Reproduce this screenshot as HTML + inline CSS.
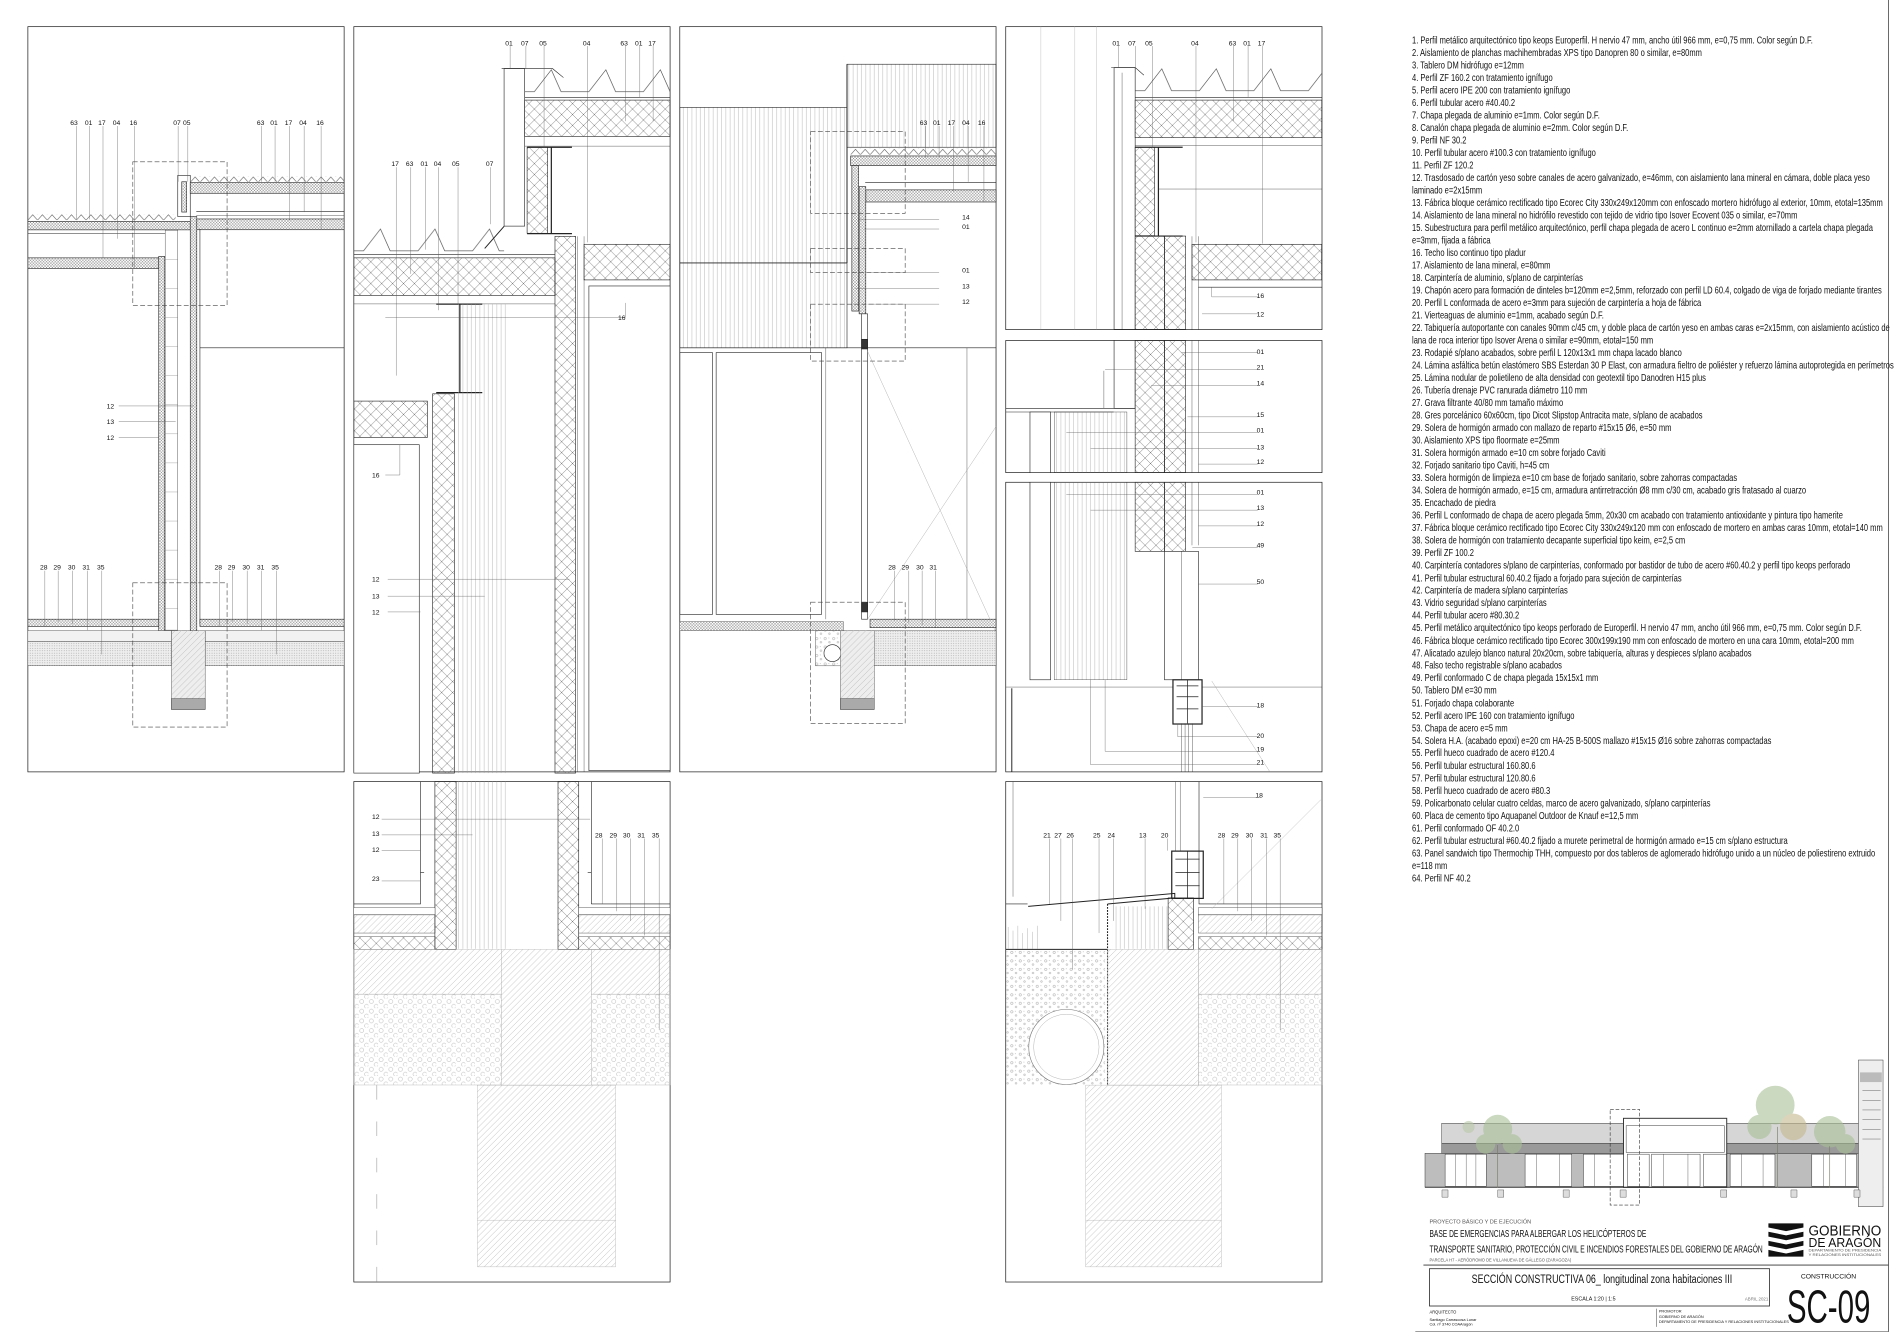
<!DOCTYPE html>
<html><head><meta charset="utf-8"><style>
html,body{margin:0;padding:0;background:#fff;}
svg{display:block;}
text{font-family:"Liberation Sans",sans-serif;fill:#111;stroke:none;}
.lg text{font-size:8.3px;}
.lb{font-size:5.6px;}
</style></head><body>
<svg width="1900" height="1342" viewBox="0 0 1568 1107.5" xmlns="http://www.w3.org/2000/svg">
<defs>
<pattern id="xh" width="9" height="9" patternUnits="userSpaceOnUse"><path d="M0 0L9 9M9 0L0 9" stroke="#555" stroke-width="0.35"/></pattern>
<pattern id="dh" width="2.4" height="2.4" patternUnits="userSpaceOnUse"><rect width="2.4" height="2.4" fill="#fff"/><path d="M0 0L2.4 2.4M2.4 0L0 2.4" stroke="#777" stroke-width="0.35"/></pattern>
<pattern id="dg" width="5" height="5" patternUnits="userSpaceOnUse"><path d="M0 5L5 0M-1 1L1 -1M4 6L6 4" stroke="#aaa" stroke-width="0.35"/></pattern>
<pattern id="dots" width="8" height="8" patternUnits="userSpaceOnUse"><circle cx="2.5" cy="2.5" r="1.7" fill="none" stroke="#999" stroke-width="0.3"/><circle cx="6.5" cy="6.5" r="1.7" fill="none" stroke="#999" stroke-width="0.3"/></pattern>
<pattern id="fd" width="2" height="2" patternUnits="userSpaceOnUse"><rect width="2" height="2" fill="#eee"/><circle cx="1" cy="1" r="0.35" fill="#888"/></pattern>
<pattern id="vl" width="3.5" height="10" patternUnits="userSpaceOnUse"><path d="M0.5 0V10" stroke="#999" stroke-width="0.3"/></pattern>
<pattern id="zz" width="8" height="5" patternUnits="userSpaceOnUse"><path d="M0 5L4 0.5L8 5" fill="none" stroke="#444" stroke-width="0.4"/></pattern>
<pattern id="zb" width="45" height="20" patternUnits="userSpaceOnUse"><path d="M0 19L8 19L22 1L30 19L45 19" fill="none" stroke="#444" stroke-width="0.5"/></pattern>
<pattern id="gv" width="7" height="7" patternUnits="userSpaceOnUse"><circle cx="2" cy="2" r="1" fill="none" stroke="#777" stroke-width="0.3"/><circle cx="5.5" cy="5" r="0.7" fill="none" stroke="#777" stroke-width="0.3"/><circle cx="5" cy="1.5" r="0.3" fill="#777"/></pattern>
</defs>
<g fill="none" stroke="#222" stroke-width="0.6">
<rect x="23" y="22" width="261" height="615"/>
<rect x="292" y="22" width="261" height="615"/>
<rect x="561" y="22" width="261" height="615"/>
<rect x="830" y="22" width="261" height="250"/>
<rect x="830" y="281" width="261" height="109"/>
<rect x="830" y="398" width="261" height="239"/>
<rect x="292" y="645" width="261" height="413"/>
<rect x="830" y="645" width="261" height="413"/>
</g>

<!-- PANEL A -->
<g stroke="#222" stroke-width="0.5" fill="none">
<g transform="translate(23,176.7)"><rect width="122" height="5" fill="url(#zz)" stroke="none"/></g>
<rect x="23" y="182.7" width="134" height="7" fill="url(#dh)"/>
<line x1="23" y1="192.8" x2="146" y2="192.8"/>
<rect x="23" y="212.8" width="108" height="8.8" fill="url(#dh)"/>
<rect x="131" y="211.6" width="5" height="309" fill="url(#dh)"/>
<rect x="136.3" y="190" width="10.4" height="330" fill="#fff" stroke-width="0.3"/>
<path d="M136.3 214h10.4M136.3 238h10.4M136.3 262h10.4M136.3 286h10.4M136.3 310h10.4M136.3 334h10.4M136.3 358h10.4M136.3 382h10.4M136.3 406h10.4M136.3 430h10.4M136.3 454h10.4M136.3 478h10.4M136.3 502h10.4" stroke="#888" stroke-width="0.3"/>
<rect x="157" y="178.7" width="5.4" height="342" fill="url(#dh)"/>
<rect x="146.7" y="144.7" width="10.3" height="34" fill="#fff"/>
<rect x="150" y="150" width="4" height="25" fill="url(#dh)"/>
<g transform="translate(157,145.5)"><rect width="127" height="4.5" fill="url(#zz)" stroke="none"/></g>
<rect x="157" y="150.7" width="127" height="8.8" fill="url(#dh)"/>
<line x1="162" y1="174.7" x2="284" y2="174.7"/><line x1="162" y1="178" x2="284" y2="178" stroke-width="0.3"/>
<rect x="162.4" y="180.7" width="121.6" height="8.9" fill="url(#dh)"/>
<line x1="165" y1="189" x2="165" y2="515"/>
<line x1="165" y1="287" x2="284" y2="287"/>
<rect x="23" y="511" width="108" height="6" fill="url(#dh)"/>
<rect x="165" y="511" width="119" height="6" fill="url(#dh)"/>
<rect x="23" y="520.5" width="118.5" height="8.8" fill="#f2f2f2" stroke-width="0.3"/>
<rect x="169.3" y="520.5" width="114.7" height="8.8" fill="#f2f2f2" stroke-width="0.3"/>
<rect x="23" y="529.3" width="118.5" height="20" fill="url(#fd)" stroke-width="0.3"/>
<rect x="169.3" y="529.3" width="114.7" height="20" fill="url(#fd)" stroke-width="0.3"/>
<rect x="141.5" y="520.5" width="27.8" height="65" fill="#eee" stroke-width="0.3"/>
<rect x="141.5" y="520.5" width="27.8" height="56" fill="url(#dg)" stroke="none"/>
<rect x="141.5" y="576.5" width="27.8" height="9" fill="#aaa" stroke-width="0.3"/>
</g>
<g fill="none" stroke="#444" stroke-width="0.5" stroke-dasharray="4,2">
<rect x="109.6" y="133.5" width="77.8" height="118.5"/>
<rect x="109.6" y="481" width="77.8" height="119"/>
</g>
<g stroke="#555" stroke-width="0.3" fill="none">
<path d="M63 104V181M74 104V181M85 104V213M97 104V197M111 104V221M147 104V150M155 104V150M216 104V150M227 104V150M239 104V182M251 104V175M265 104V189"/>
<path d="M98 335H160M98 348H145M98 361H131"/>
<path d="M37 471V517M48 471V513M60 471V515M72 471V520M84 471V540M181 471V517M192 471V513M204 471V515M216 471V520M228 471V540"/>
</g>
<g class="lb">
<text x="58" y="103">63</text><text x="70" y="103">01</text><text x="81" y="103">17</text><text x="93" y="103">04</text><text x="107" y="103">16</text>
<text x="143" y="103">07</text><text x="151" y="103">05</text>
<text x="212" y="103">63</text><text x="223" y="103">01</text><text x="235" y="103">17</text><text x="247" y="103">04</text><text x="261" y="103">16</text>
<text x="88" y="337">12</text><text x="88" y="350">13</text><text x="88" y="363">12</text>
<text x="33" y="470">28</text><text x="44" y="470">29</text><text x="56" y="470">30</text><text x="68" y="470">31</text><text x="80" y="470">35</text>
<text x="177" y="470">28</text><text x="188" y="470">29</text><text x="200" y="470">30</text><text x="212" y="470">31</text><text x="224" y="470">35</text>
</g>

<!-- PANEL B -->
<g stroke="#222" stroke-width="0.5" fill="none">
<rect x="416" y="56.6" width="17" height="130" fill="#fff"/>
<path d="M414 56.6H456L465 64"/>
<g transform="translate(433,56.6)"><rect width="120" height="20" fill="url(#zb)" stroke="none"/></g>
<line x1="433" y1="80.6" x2="553" y2="80.6"/>
<rect x="433" y="82.6" width="120" height="30" fill="url(#xh)"/>
<line x1="433" y1="120.6" x2="553" y2="120.6" stroke-width="0.3"/>
<rect x="435" y="121.5" width="17" height="71" fill="url(#xh)"/>
<path d="M435 121.5H472M455 121.5V192.8M435 192.8H472" stroke-width="1"/>
<g transform="translate(292,188)"><rect width="124" height="20" fill="url(#zb)" stroke="none"/></g>
<path d="M416 186.8L400 205" stroke-width="0.8"/>
<line x1="292" y1="210" x2="458" y2="210"/>
<rect x="292" y="212.8" width="166" height="31" fill="url(#xh)"/>
<line x1="292" y1="250.8" x2="458" y2="250.8" stroke-width="0.3"/>
<path d="M360 251H398M379.5 251V324M360 324H398" stroke-width="1"/>
<rect x="292" y="331" width="60.7" height="30" fill="url(#xh)"/>
<rect x="292" y="367" width="54" height="271" fill="#fff"/>
<rect x="357" y="325" width="18" height="313" fill="url(#xh)"/>
<rect x="378" y="251" width="41" height="387" fill="url(#vl)" stroke="none"/>
<rect x="458" y="195" width="17" height="443" fill="url(#xh)"/>
<path d="M476.7 195V637M482 195V637" stroke-width="0.3"/>
<rect x="482" y="201.6" width="71" height="29.4" fill="url(#xh)"/>
<rect x="486" y="236" width="67" height="400" fill="#fff"/>
</g>
<g stroke="#555" stroke-width="0.3" fill="none">
<path d="M421 38V57M434 38V57M449 38V122M485 38V200M516 38V100M528 38V80M539 38V100"/>
<path d="M327 138V310M339 138V226M351 138V206M362 138V256M378 138V251M405 138V185"/>
<path d="M318 262H516V250M318 392H330V367M320 478H470M320 492H400M320 505H347"/>
</g>
<g class="lb">
<text x="417" y="37.5">01</text><text x="430" y="37.5">07</text><text x="445" y="37.5">05</text><text x="481" y="37.5">04</text><text x="512" y="37.5">63</text><text x="524" y="37.5">01</text><text x="535" y="37.5">17</text>
<text x="323" y="137">17</text><text x="335" y="137">63</text><text x="347" y="137">01</text><text x="358" y="137">04</text><text x="373" y="137">05</text><text x="401" y="137">07</text>
<text x="510" y="264">16</text><text x="307" y="394">16</text>
<text x="307" y="480">12</text><text x="307" y="494">13</text><text x="307" y="507">12</text>
</g>

<!-- PANEL C -->
<g stroke="#222" stroke-width="0.5" fill="none">
<rect x="561" y="88.6" width="138" height="198.4" fill="url(#vl)"/>
<line x1="561" y1="217" x2="699" y2="217" stroke-width="0.8"/>
<rect x="699" y="53" width="123" height="68.5" fill="url(#vl)"/>
<line x1="699" y1="53" x2="699" y2="217" stroke-width="0.8"/>
<g transform="translate(702,122.7)"><rect width="120" height="5" fill="url(#zz)" stroke="none"/></g>
<rect x="702" y="128.7" width="120" height="8" fill="url(#dh)"/>
<line x1="714" y1="150.7" x2="822" y2="150.7"/>
<rect x="714.5" y="156.7" width="107.5" height="10" fill="url(#dh)"/>
<rect x="703" y="136.7" width="5.6" height="120" fill="url(#dh)"/>
<rect x="709" y="154" width="5.5" height="105" fill="url(#dh)"/>
<rect x="711" y="259" width="5" height="252" fill="#fff"/>
<rect x="711" y="280" width="5" height="8" fill="#333"/>
<rect x="711" y="497" width="5" height="8" fill="#333"/>
<line x1="561" y1="287" x2="822" y2="287"/>
<rect x="561" y="291" width="27" height="216"/>
<rect x="591" y="291" width="87" height="216"/>
<line x1="681.5" y1="287" x2="681.5" y2="511" stroke-width="0.3"/>
<line x1="798" y1="287" x2="798" y2="511" stroke-width="0.3"/>
<path d="M716 290L822 522M716 511L822 352" stroke="#999" stroke-width="0.3"/>
<rect x="561" y="513" width="135" height="7.5" fill="url(#dh)" stroke-width="0.3"/>
<rect x="718" y="511" width="104" height="7" fill="url(#dh)"/>
<rect x="716" y="520.5" width="106" height="28.8" fill="url(#fd)" stroke-width="0.3"/>
<rect x="673" y="520.5" width="24" height="29" fill="url(#gv)" stroke-width="0.3"/>
<circle cx="687" cy="539" r="7" fill="#fff"/>
<rect x="693.6" y="520.5" width="27.9" height="65" fill="#eee" stroke-width="0.3"/>
<rect x="693.6" y="520.5" width="27.9" height="56" fill="url(#dg)" stroke="none"/>
<rect x="693.6" y="576.5" width="27.9" height="9" fill="#aaa" stroke-width="0.3"/>
</g>
<g fill="none" stroke="#444" stroke-width="0.5" stroke-dasharray="4,2">
<rect x="669" y="108.6" width="78" height="67.4"/>
<rect x="669" y="205" width="78" height="20"/>
<rect x="669" y="251" width="78" height="47"/>
<rect x="669" y="497" width="78" height="100"/>
</g>
<g stroke="#555" stroke-width="0.3" fill="none">
<path d="M764 104V130M775 104V130M787 104V158M799 104V150M812 104V167"/>
<path d="M708 181H775M713 189H775M716 225H775M706 238H775M716 251H775"/>
<path d="M738 471V512M750 471V514M761 471V516M772 471V518"/>
</g>
<g class="lb">
<text x="759" y="103">63</text><text x="770" y="103">01</text><text x="782" y="103">17</text><text x="794" y="103">04</text><text x="807" y="103">16</text>
<text x="794" y="181">14</text><text x="794" y="189">01</text><text x="794" y="225">01</text><text x="794" y="238">13</text><text x="794" y="251">12</text>
<text x="733" y="470">28</text><text x="744" y="470">29</text><text x="756" y="470">30</text><text x="767" y="470">31</text>
</g>

<!-- PANEL D -->
<g stroke="#222" stroke-width="0.5" fill="none">
<path d="M859 22V272M887 22V272M905 22V272" stroke="#aaa" stroke-width="0.3"/>
<rect x="919.4" y="55.8" width="17.4" height="216" fill="#fff"/>
<line x1="926" y1="60" x2="926" y2="272" stroke-width="0.3"/>
<path d="M917 55.8H937L944 62" />
<g transform="translate(936.8,55.8)"><rect width="154" height="20" fill="url(#zb)" stroke="none"/></g>
<line x1="936.8" y1="80.6" x2="1091" y2="80.6"/>
<rect x="936.8" y="82.6" width="154" height="31" fill="url(#xh)"/>
<line x1="936.8" y1="120" x2="1091" y2="120" stroke-width="0.3"/>
<rect x="936.8" y="121.5" width="16" height="73" fill="url(#xh)"/>
<path d="M936.8 121.5H976M956 121.5V194.8M936.8 194.8H976" stroke-width="1"/>
<line x1="956" y1="156" x2="1091" y2="156" stroke-width="0.3"/>
<rect x="936.8" y="194.8" width="24.2" height="77" fill="url(#xh)"/>
<rect x="961" y="194.8" width="17.4" height="77" fill="url(#xh)"/>
<path d="M983.7 195V272M989 195V272" stroke-width="0.3"/>
<rect x="983.7" y="201.6" width="107" height="29.4" fill="url(#xh)"/>
<path d="M989 237H1091" />
<rect x="919.4" y="281" width="17.4" height="56" fill="#fff"/>
<rect x="936.8" y="281" width="24.2" height="109" fill="url(#xh)"/>
<rect x="961" y="281" width="17.4" height="109" fill="url(#xh)"/>
<path d="M983.7 281V390M989 281V390" stroke-width="0.3"/>
<path d="M830 337H937M830 340H919" />
<rect x="850" y="340" width="17" height="50" fill="#fff"/>
<rect x="870" y="340" width="60" height="50" fill="url(#vl)" stroke-width="0.3"/>
<line x1="911" y1="306" x2="911" y2="337" stroke-width="0.3"/>
<rect x="936.8" y="398" width="24.2" height="57" fill="url(#xh)"/>
<rect x="961" y="398" width="17.4" height="57" fill="url(#xh)"/>
<path d="M983.7 398V450M989 398V450" stroke-width="0.3"/>
<rect x="850" y="398" width="17" height="163" fill="#fff"/>
<rect x="870" y="398" width="60" height="163" fill="url(#vl)" stroke-width="0.3"/>
<rect x="961" y="455" width="28" height="106" fill="#fff"/>
<line x1="975" y1="455" x2="975" y2="561" stroke-width="0.3"/>
<line x1="830" y1="567" x2="1091" y2="567" stroke-width="0.3"/>
<rect x="968" y="561" width="24" height="36.5" fill="#fff" stroke-width="1"/>
<path d="M971 566H989M971 575H989M971 585H989M980 561V597" stroke-width="0.6"/>
<path d="M975 597V637M978 597V637M981 597V637M984 597V637" stroke-width="0.3"/>
<path d="M1000 562L1048 637" stroke="#999" stroke-width="0.3"/>
<path d="M835 568V637" stroke-width="0.8"/>
</g>
<g stroke="#555" stroke-width="0.3" fill="none">
<path d="M923 38V56M937 38V60M951 38V122M987 38V200M1018 38V100M1030 38V80M1042 38V201"/>
<path d="M1000 237V245H1038M992 259H1038"/>
<path d="M975 291H1038M912 305H1038M950 318H1038M980 344H1038M880 357H1038M900 370H1038M989 383H1038"/>
<path d="M880 408H1038M900 421H1038M989 434H1038M984 452H1038M989 482H1038M992 583H1038M972 597V608H1038M912 561V620H1038M900 561V631H1038"/>
</g>
<g class="lb">
<text x="918" y="37.5">01</text><text x="931" y="37.5">07</text><text x="945" y="37.5">05</text><text x="983" y="37.5">04</text><text x="1014" y="37.5">63</text><text x="1026" y="37.5">01</text><text x="1038" y="37.5">17</text>
<text x="1037" y="246">16</text><text x="1037" y="261">12</text>
<text x="1037" y="292">01</text><text x="1037" y="305">21</text><text x="1037" y="318">14</text><text x="1037" y="344">15</text><text x="1037" y="357">01</text><text x="1037" y="371">13</text><text x="1037" y="383">12</text>
<text x="1037" y="408">01</text><text x="1037" y="421">13</text><text x="1037" y="434">12</text><text x="1037" y="452">49</text><text x="1037" y="482">50</text><text x="1037" y="584">18</text><text x="1037" y="609">20</text><text x="1037" y="620">19</text><text x="1037" y="631">21</text>
</g>

<!-- PANEL B2 -->
<g stroke="#222" stroke-width="0.5" fill="none">
<rect x="358.9" y="645" width="17.5" height="138.5" fill="url(#xh)"/>
<rect x="460.5" y="645" width="17.1" height="138.5" fill="url(#xh)"/>
<rect x="378" y="645" width="41" height="138" fill="url(#vl)" stroke="none"/>
<path d="M292 746H347V645M347 746V720H350M488 746V645M488 720H485M488 746H553" />
<rect x="292" y="749" width="67" height="6" fill="#fff" stroke-width="0.3"/>
<rect x="477.6" y="749" width="75.4" height="6" fill="#fff" stroke-width="0.3"/>
<rect x="292" y="755" width="67" height="15" fill="url(#dg)" stroke-width="0.3"/>
<rect x="477.6" y="755" width="75.4" height="15" fill="url(#dg)" stroke-width="0.3"/>
<rect x="292" y="773" width="67" height="10.5" fill="url(#xh)" stroke-width="0.3"/>
<rect x="477.6" y="773" width="75.4" height="10.5" fill="url(#xh)" stroke-width="0.3"/>
<rect x="292" y="783.5" width="121.7" height="37" fill="url(#dg)" stroke="#aaa" stroke-width="0.3"/>
<rect x="488" y="783.5" width="65" height="37" fill="url(#dg)" stroke="#aaa" stroke-width="0.3"/>
<rect x="413.7" y="783.5" width="74.3" height="112" fill="url(#dg)" stroke="#aaa" stroke-width="0.3"/>
<rect x="292" y="820.4" width="121.7" height="75" fill="url(#dots)" stroke="#aaa" stroke-width="0.3"/>
<rect x="488" y="820.4" width="65" height="75" fill="url(#dots)" stroke="#aaa" stroke-width="0.3"/>
<rect x="394" y="895.5" width="114" height="150" fill="url(#dg)" stroke="#aaa" stroke-width="0.3"/>
<line x1="394" y1="1007" x2="508" y2="1007" stroke="#aaa" stroke-width="0.3"/>
<line x1="311" y1="895.5" x2="311" y2="1058" stroke="#888" stroke-width="0.4" stroke-dasharray="12,18"/>
</g>
<g stroke="#555" stroke-width="0.3" fill="none">
<path d="M315 676H487M315 689H390M315 702H347M315 727H347"/>
<path d="M497 692V746M509 692V752M520.5 692V760M532 692V772M544 692V850"/>
</g>
<g class="lb">
<text x="307" y="676">12</text><text x="307" y="690">13</text><text x="307" y="703">12</text><text x="307" y="727">23</text>
<text x="491" y="691">28</text><text x="503" y="691">29</text><text x="514" y="691">30</text><text x="526" y="691">31</text><text x="538" y="691">35</text>
</g>

<!-- PANEL D4 -->
<g stroke="#222" stroke-width="0.5" fill="none">
<line x1="836" y1="645" x2="836" y2="740" stroke-width="0.3"/>
<path d="M970 645V702M974 645V702" stroke-width="0.3"/>
<rect x="967" y="702.4" width="26" height="39" fill="#fff" stroke-width="1"/>
<path d="M970 709H990M970 720H990M970 731H990M980 702V741" stroke-width="0.6"/>
<path d="M848.5 748L969.5 737.3L969.5 741L914 746" stroke-width="0.8"/>
<path d="M914 746V895" stroke-dasharray="1.5,1" stroke-width="0.9"/>
<path d="M830 746H848" />
<rect x="964" y="741" width="21" height="42.5" fill="url(#xh)"/>
<path d="M989.5 645V746H1091" />
<rect x="918" y="748" width="46" height="35" fill="url(#vl)" stroke="none"/>
<rect x="989" y="749" width="102" height="6" fill="#fff" stroke-width="0.3"/>
<rect x="989" y="755" width="102" height="15" fill="url(#dg)" stroke-width="0.3"/>
<rect x="989" y="773" width="102" height="10.5" fill="url(#xh)" stroke-width="0.3"/>
<path d="M832 783V765M836 783V768M840 783V764M844 783V770M848 783V766M852 783V769M856 783V764" stroke="#999" stroke-width="0.3"/>
<rect x="830" y="783.5" width="82" height="112" fill="url(#gv)" stroke="none"/>
<line x1="830" y1="783.5" x2="914" y2="783.5" stroke-width="0.8"/>
<circle cx="880" cy="864" r="31" fill="#fff" stroke="#777"/>
<circle cx="880" cy="864" r="27" fill="#fff" stroke="#999" stroke-width="0.3"/>
<rect x="914" y="783.5" width="75" height="112" fill="url(#dg)" stroke="#aaa" stroke-width="0.3"/>
<rect x="989" y="783.5" width="102" height="37" fill="url(#dg)" stroke="#aaa" stroke-width="0.3"/>
<rect x="989" y="820.4" width="102" height="75" fill="url(#dots)" stroke="#aaa" stroke-width="0.3"/>
<rect x="896" y="895.5" width="112" height="150" fill="url(#dg)" stroke="#aaa" stroke-width="0.3"/>
<line x1="896" y1="1007" x2="1008" y2="1007" stroke="#aaa" stroke-width="0.3"/>
<path d="M1000 750L1090 660" stroke="#aaa" stroke-width="0.3"/>
</g>
<g stroke="#555" stroke-width="0.3" fill="none">
<path d="M993 658H1040M866 692V746M875.5 692V760M885 692V800M907 692V770M919 692V760M945 692V750M963.5 692V702"/>
<path d="M1010 692V746M1021.5 692V752M1033 692V760M1045 692V772M1056.5 692V850"/>
</g>
<g class="lb">
<text x="1036" y="658">18</text>
<text x="861" y="691">21</text><text x="870" y="691">27</text><text x="880" y="691">26</text><text x="902" y="691">25</text><text x="914" y="691">24</text><text x="940" y="691">13</text><text x="958" y="691">20</text>
<text x="1005" y="691">28</text><text x="1016" y="691">29</text><text x="1028" y="691">30</text><text x="1040" y="691">31</text><text x="1051" y="691">35</text>
</g>

<!-- LEGEND -->
<g class="lg" transform="translate(1165.3,0) scale(0.75,1)">
<text x="0" y="35.9">1.  Perfil metálico arquitectónico tipo keops Europerfil. H nervio 47 mm, ancho útil 966 mm, e=0,75 mm. Color según D.F.</text>
<text x="0" y="46.2">2. Aislamiento de planchas machihembradas XPS tipo Danopren 80 o similar, e=80mm</text>
<text x="0" y="56.5">3. Tablero DM hidrófugo e=12mm</text>
<text x="0" y="66.9">4. Perfil ZF 160.2 con tratamiento ignífugo</text>
<text x="0" y="77.2">5. Perfil acero IPE 200 con tratamiento ignífugo</text>
<text x="0" y="87.5">6. Perfil tubular acero #40.40.2</text>
<text x="0" y="97.8">7. Chapa plegada de aluminio e=1mm. Color según D.F.</text>
<text x="0" y="108.1">8. Canalón chapa plegada de aluminio e=2mm. Color según D.F.</text>
<text x="0" y="118.5">9. Perfil NF 30.2</text>
<text x="0" y="128.8">10. Perfil tubular acero #100.3 con tratamiento ignífugo</text>
<text x="0" y="139.1">11. Perfil ZF 120.2</text>
<text x="0" y="149.4">12. Trasdosado de cartón yeso sobre canales de acero galvanizado, e=46mm, con aislamiento lana mineral en cámara, doble placa yeso</text>
<text x="0" y="159.7">laminado e=2x15mm</text>
<text x="0" y="170.1">13. Fábrica bloque cerámico rectificado tipo Ecorec City 330x249x120mm con enfoscado mortero hidrófugo al exterior, 10mm, etotal=135mm</text>
<text x="0" y="180.4">14. Aislamiento de lana mineral no hidrófilo revestido con tejido de vidrio tipo Isover Ecovent 035 o similar, e=70mm</text>
<text x="0" y="190.7">15. Subestructura para perfil metálico arquitectónico, perfil chapa plegada de acero L continuo e=2mm atornillado a cartela chapa plegada</text>
<text x="0" y="201.0">e=3mm, fijada a fábrica</text>
<text x="0" y="211.3">16.  Techo liso continuo tipo pladur</text>
<text x="0" y="221.7">17. Aislamiento de lana mineral, e=80mm</text>
<text x="0" y="232.0">18. Carpintería de aluminio, s/plano de carpinterías</text>
<text x="0" y="242.3">19. Chapón acero para formación de dinteles b=120mm e=2,5mm, reforzado con perfil LD 60.4, colgado de viga de forjado mediante tirantes</text>
<text x="0" y="252.6">20. Perfil L conformada de acero e=3mm para sujeción de carpintería a hoja de fábrica</text>
<text x="0" y="262.9">21. Vierteaguas de aluminio e=1mm, acabado según D.F.</text>
<text x="0" y="273.3">22. Tabiquería autoportante con canales 90mm c/45 cm, y doble placa de cartón yeso en ambas caras e=2x15mm, con aislamiento acústico de</text>
<text x="0" y="283.6">lana de roca interior tipo Isover Arena o similar e=90mm, etotal=150 mm</text>
<text x="0" y="293.9">23. Rodapié s/plano acabados, sobre perfil L 120x13x1 mm chapa lacado blanco</text>
<text x="0" y="304.2">24. Lámina asfáltica betún elastómero SBS Esterdan 30 P Elast, con armadura fieltro de poliéster y refuerzo lámina autoprotegida en perímetros</text>
<text x="0" y="314.5">25. Lámina nodular de polietileno de alta densidad con geotextil tipo Danodren H15 plus</text>
<text x="0" y="324.9">26. Tubería drenaje PVC ranurada diámetro 110 mm</text>
<text x="0" y="335.2">27. Grava filtrante 40/80 mm tamaño máximo</text>
<text x="0" y="345.5">28. Gres porcelánico 60x60cm, tipo Dicot Slipstop Antracita mate, s/plano de acabados</text>
<text x="0" y="355.8">29. Solera de hormigón armado con mallazo de reparto #15x15 Ø6, e=50 mm</text>
<text x="0" y="366.1">30. Aislamiento XPS tipo floormate e=25mm</text>
<text x="0" y="376.5">31. Solera hormigón armado e=10 cm sobre forjado Caviti</text>
<text x="0" y="386.8">32. Forjado sanitario tipo Caviti, h=45 cm</text>
<text x="0" y="397.1">33. Solera hormigón de limpieza  e=10 cm base de forjado sanitario, sobre zahorras compactadas</text>
<text x="0" y="407.4">34. Solera de hormigón armado, e=15 cm, armadura antirretracción Ø8 mm c/30 cm, acabado gris fratasado al cuarzo</text>
<text x="0" y="417.7">35. Encachado de piedra</text>
<text x="0" y="428.1">36. Perfil L conformado de chapa de acero plegada 5mm, 20x30 cm acabado con tratamiento antioxidante y pintura tipo hamerite</text>
<text x="0" y="438.4">37. Fábrica bloque cerámico rectificado tipo Ecorec City 330x249x120 mm con enfoscado de mortero en ambas caras 10mm, etotal=140 mm</text>
<text x="0" y="448.7">38. Solera de hormigón con tratamiento decapante superficial tipo keim, e=2,5 cm</text>
<text x="0" y="459.0">39. Perfil ZF 100.2</text>
<text x="0" y="469.3">40. Carpintería contadores s/plano de carpinterías, conformado por bastidor de tubo de acero #60.40.2 y perfil tipo keops perforado</text>
<text x="0" y="479.7">41. Perfil tubular estructural 60.40.2 fijado a forjado para sujeción de carpinterías</text>
<text x="0" y="490.0">42. Carpintería de madera s/plano carpinterías</text>
<text x="0" y="500.3">43. Vidrio seguridad s/plano carpinterías</text>
<text x="0" y="510.6">44. Perfil tubular acero #80.30.2</text>
<text x="0" y="520.9">45. Perfil metálico arquitectónico tipo keops perforado de Europerfil. H nervio 47 mm, ancho útil 966 mm, e=0,75 mm. Color según D.F.</text>
<text x="0" y="531.3">46. Fábrica bloque cerámico rectificado tipo Ecorec 300x199x190 mm con enfoscado de mortero en una cara 10mm, etotal=200 mm</text>
<text x="0" y="541.6">47. Alicatado azulejo blanco natural  20x20cm, sobre tabiquería, alturas y despieces s/plano acabados</text>
<text x="0" y="551.9">48. Falso techo registrable s/plano acabados</text>
<text x="0" y="562.2">49. Perfil conformado C de chapa plegada 15x15x1 mm</text>
<text x="0" y="572.5">50. Tablero DM e=30 mm</text>
<text x="0" y="582.9">51. Forjado chapa colaborante</text>
<text x="0" y="593.2">52. Perfil acero IPE 160 con tratamiento ignífugo</text>
<text x="0" y="603.5">53. Chapa de acero e=5 mm</text>
<text x="0" y="613.8">54. Solera H.A. (acabado epoxi) e=20 cm  HA-25 B-500S mallazo #15x15 Ø16 sobre zahorras compactadas</text>
<text x="0" y="624.1">55. Perfil hueco cuadrado de acero #120.4</text>
<text x="0" y="634.5">56. Perfil tubular estructural 160.80.6</text>
<text x="0" y="644.8">57. Perfil tubular estructural 120.80.6</text>
<text x="0" y="655.1">58. Perfil hueco cuadrado de acero #80.3</text>
<text x="0" y="665.4">59. Policarbonato celular cuatro celdas, marco de acero galvanizado, s/plano carpinterías</text>
<text x="0" y="675.7">60. Placa de cemento tipo Aquapanel Outdoor de Knauf e=12,5 mm</text>
<text x="0" y="686.1">61. Perfil conformado OF 40.2.0</text>
<text x="0" y="696.4">62. Perfil tubular estructural #60.40.2 fijado a murete perimetral de hormigón armado e=15 cm s/plano estructura</text>
<text x="0" y="706.7">63. Panel sandwich tipo Thermochip THH, compuesto por dos tableros de aglomerado hidrófugo unido a un núcleo de poliestireno extruido</text>
<text x="0" y="717.0">e=118 mm</text>
<text x="0" y="727.3">64. Perfil NF 40.2</text>
</g>

<!-- ELEVATION -->
<g stroke="#333" stroke-width="0.4">
<rect x="1176" y="951.8" width="358" height="28" fill="#bdbdbd"/>
<rect x="1189.8" y="927" width="150" height="16.5" fill="#d6d6d6"/>
<rect x="1189.8" y="943.5" width="150" height="8.3" fill="#9a9a9a"/>
<rect x="1425" y="927" width="110" height="16.5" fill="#d6d6d6"/>
<rect x="1425" y="943.5" width="110" height="8.3" fill="#9a9a9a"/>
<rect x="1339.8" y="922.9" width="85.2" height="57" fill="#fff" stroke-width="0.8"/>
<rect x="1342" y="929" width="81" height="22" fill="#fff"/>
<g fill="#fff">
<rect x="1192.6" y="952.5" width="34" height="26.5"/>
<rect x="1258.6" y="952.5" width="38.5" height="26.5"/>
<rect x="1306.8" y="952.5" width="33" height="26.5"/>
<rect x="1363" y="952.5" width="40" height="26.5"/>
<rect x="1405.8" y="952.5" width="19" height="26.5"/>
<rect x="1427.8" y="952.5" width="37" height="26.5"/>
<rect x="1495.2" y="952.5" width="37" height="26.5"/>
<rect x="1343" y="952.5" width="18" height="26.5"/>
</g>
<path d="M1201 952.5V979M1210 952.5V979M1218 952.5V979M1268 952.5V979M1287 952.5V979M1316 952.5V979M1373 952.5V979M1393 952.5V979M1437 952.5V979M1455 952.5V979M1505 952.5V979M1523 952.5V979" stroke-width="0.3" fill="none"/>
<line x1="1176" y1="979.8" x2="1554" y2="979.8" stroke-width="0.8"/>
<rect x="1533.7" y="874.8" width="20.3" height="121" fill="#eee"/>
<rect x="1535" y="885" width="18" height="8" fill="#bbb" stroke="none"/>
<path d="M1537 900H1552M1537 908H1552M1537 916H1552M1537 924H1552M1537 932H1552M1537 940H1552" stroke-width="0.3" fill="none"/>
<path d="M1190 982h5v6h-5zM1236 982h5v6h-5zM1290 982h5v6h-5zM1337 982h5v6h-5zM1420 982h5v6h-5zM1478 982h5v6h-5zM1530 982h5v6h-5z" fill="#ddd" stroke-width="0.3"/>
<rect x="1328.8" y="915.5" width="24.2" height="79" fill="none" stroke-dasharray="3,1.5" stroke-width="0.5"/>
</g>
<g fill="#a9c097" opacity="0.6">
<circle cx="1236" cy="932" r="12"/><circle cx="1226" cy="944" r="8"/><circle cx="1248" cy="944" r="8"/><circle cx="1212" cy="930" r="5" fill="#b9c9a8"/>
<circle cx="1465" cy="912" r="16"/><circle cx="1452" cy="930" r="10"/><circle cx="1480" cy="930" r="11" fill="#c4b98d"/>
<circle cx="1510" cy="934" r="13"/><circle cx="1523" cy="944" r="8"/>
</g>
<g stroke="#776" stroke-width="0.5" fill="none"><path d="M1236 945V980M1467 930V980M1510 946V980"/></g>

<!-- TITLE BLOCK -->
<g fill="none" stroke="#333" stroke-width="0.6">
<line x1="1558.5" y1="0" x2="1558.5" y2="1099"/>
<line x1="1168" y1="1099" x2="1558.5" y2="1099" stroke-width="0.4"/>
<line x1="1174.7" y1="1044" x2="1558.5" y2="1044" stroke-width="0.8"/>
<rect x="1179.7" y="1047" width="280.6" height="30.8" stroke-width="0.7"/>
<line x1="1367" y1="1080" x2="1367" y2="1095" stroke-width="0.4"/>
</g>
<text x="1179.7" y="1009.6" style="font-size:4.6px;fill:#555">PROYECTO BÁSICO Y DE EJECUCIÓN</text>
<text x="1179.7" y="1021" style="font-size:8.2px" textLength="179" lengthAdjust="spacingAndGlyphs">BASE DE EMERGENCIAS PARA ALBERGAR LOS HELICÓPTEROS DE</text>
<text x="1179.7" y="1033.5" style="font-size:8.2px" textLength="275" lengthAdjust="spacingAndGlyphs">TRANSPORTE SANITARIO, PROTECCIÓN CIVIL E INCENDIOS FORESTALES DEL GOBIERNO DE ARAGÓN</text>
<text x="1179.7" y="1041" style="font-size:3.8px;fill:#555" textLength="117" lengthAdjust="spacingAndGlyphs">PARCELA H7 - AERÓDROMO DE VILLANUEVA DE GÁLLEGO (ZARAGOZA)</text>
<text x="1322" y="1059" text-anchor="middle" style="font-size:10px" textLength="215" lengthAdjust="spacingAndGlyphs">SECCIÓN CONSTRUCTIVA 06_ longitudinal zona habitaciones III</text>
<text x="1315" y="1073.4" text-anchor="middle" style="font-size:4.4px">ESCALA 1:20 | 1:5</text>
<text x="1440" y="1073.4" style="font-size:3.6px;fill:#777">ABRIL 2021</text>
<text x="1509" y="1055" text-anchor="middle" style="font-size:5.6px">CONSTRUCCIÓN</text>
<text x="1474.6" y="1091.5" style="font-size:38px" textLength="69" lengthAdjust="spacingAndGlyphs">SC-09</text>
<text x="1179.7" y="1084" style="font-size:3.4px">ARQUITECTO</text>
<text x="1179.7" y="1090" style="font-size:3.2px">Santiago Carrascosa Lunar</text>
<text x="1179.7" y="1094" style="font-size:3.2px">Col. nº 3740 COAAragón</text>
<text x="1369" y="1083" style="font-size:3.2px">PROMOTOR</text>
<text x="1369" y="1087.5" style="font-size:3.2px">GOBIERNO DE ARAGÓN</text>
<text x="1369" y="1092" style="font-size:3.2px">DEPARTAMENTO DE PRESIDENCIA Y RELACIONES INSTITUCIONALES</text>
<g fill="#111">
<path d="M1459.4 1009.6L1488.3 1009.6L1488.3 1013L1474 1016L1459.4 1013Z"/>
<path d="M1459.4 1016.5L1474 1019.5L1488.3 1016.5L1488.3 1020.5L1474 1023.5L1459.4 1020.5Z"/>
<path d="M1459.4 1024L1474 1027L1488.3 1024L1488.3 1028L1474 1031L1459.4 1028Z"/>
<path d="M1459.4 1031.5L1474 1034.5L1488.3 1031.5L1488.3 1037L1459.4 1037Z"/>
</g>
<text x="1492.5" y="1019.7" style="font-size:12px" textLength="60" lengthAdjust="spacingAndGlyphs">GOBIERNO</text>
<text x="1492.5" y="1029" style="font-size:11px" textLength="60" lengthAdjust="spacingAndGlyphs">DE ARAGÓN</text>
<text x="1492.5" y="1033" style="font-size:2.6px;fill:#555" textLength="60" lengthAdjust="spacingAndGlyphs">DEPARTAMENTO DE PRESIDENCIA</text>
<text x="1492.5" y="1036.5" style="font-size:2.6px;fill:#555" textLength="60" lengthAdjust="spacingAndGlyphs">Y RELACIONES INSTITUCIONALES</text>
</svg>
</body></html>
